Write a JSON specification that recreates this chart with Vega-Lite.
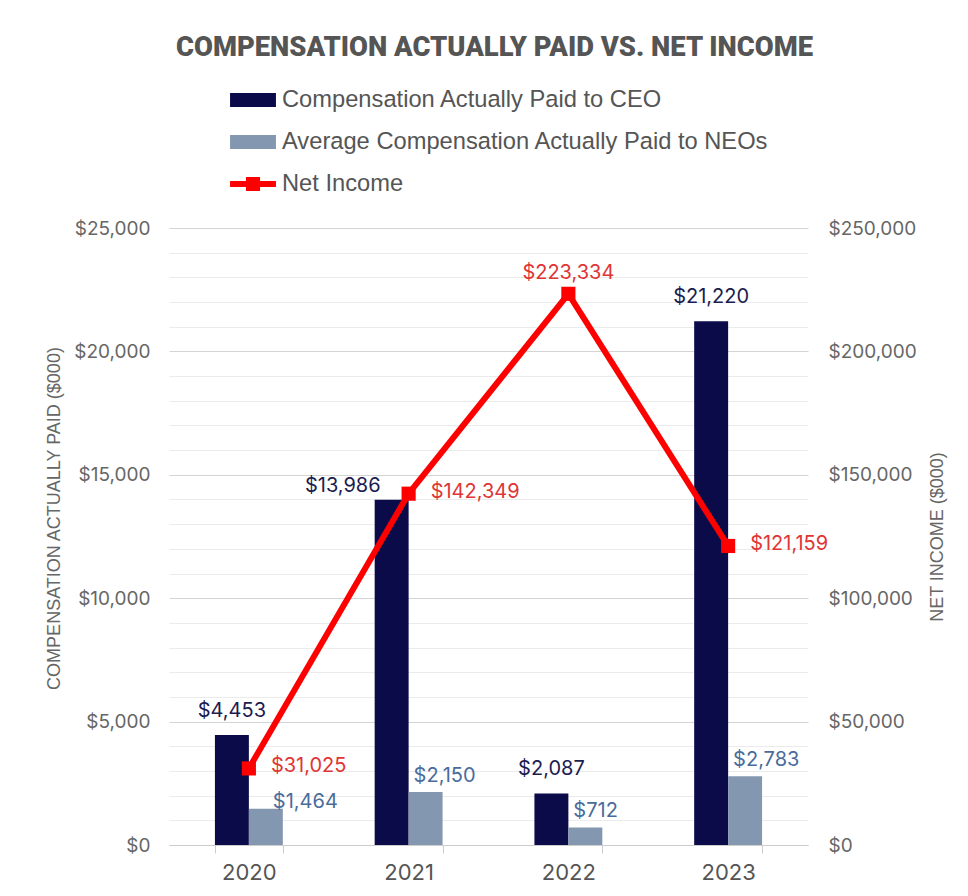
{
  "$schema": "https://vega.github.io/schema/vega-lite/v6.json",
  "width": 639,
  "height": 617,
  "autosize": {"type": "none"},
  "padding": {"left": 169, "top": 228, "right": 160, "bottom": 51},
  "background": "white",
  "title": {
    "text": "COMPENSATION ACTUALLY PAID VS. NET INCOME",
    "anchor": "middle",
    "font": "Roboto",
    "fontSize": 27.4,
    "fontWeight": 900,
    "color": "#555555",
    "offset": 24,
    "dx": 6
  },
  "config": {"view": {"stroke": null}, "font": "Inter"},
  "data": {
    "values": [
      {"year": "2020", "series": "Compensation Actually Paid to CEO", "value": 4453},
      {"year": "2021", "series": "Compensation Actually Paid to CEO", "value": 13986},
      {"year": "2022", "series": "Compensation Actually Paid to CEO", "value": 2087},
      {"year": "2023", "series": "Compensation Actually Paid to CEO", "value": 21220},
      {"year": "2020", "series": "Average Compensation Actually Paid to NEOs", "value": 1464},
      {"year": "2021", "series": "Average Compensation Actually Paid to NEOs", "value": 2150},
      {"year": "2022", "series": "Average Compensation Actually Paid to NEOs", "value": 712},
      {"year": "2023", "series": "Average Compensation Actually Paid to NEOs", "value": 2783},
      {"year": "2020", "series": "Net Income", "value": 31025},
      {"year": "2021", "series": "Net Income", "value": 142349},
      {"year": "2022", "series": "Net Income", "value": 223334},
      {"year": "2023", "series": "Net Income", "value": 121159}
    ]
  },
  "layer": [
    {
      "transform": [{"filter": "datum.series !== 'Net Income'"}],
      "encoding": {
        "x": {
          "field": "year",
          "type": "ordinal",
          "scale": {"paddingInner": 0.575, "paddingOuter": 0.2875},
          "axis": {
            "title": null,
            "labelAngle": 0,
            "labelFont": "Inter",
            "labelFontSize": 22,
            "labelColor": "#555555",
            "labelPadding": 9,
            "tickBand": "extent",
            "ticks": true,
            "tickSize": 8,
            "tickColor": "#cccccc",
            "domainColor": "#cccccc",
            "grid": false
          }
        },
        "xOffset": {
          "field": "series",
          "scale": {"domain": ["Compensation Actually Paid to CEO", "Average Compensation Actually Paid to NEOs"]}
        },
        "y": {
          "field": "value",
          "type": "quantitative",
          "scale": {"domain": [0, 25000], "nice": false},
          "axis": {
            "title": "COMPENSATION ACTUALLY PAID ($000)",
            "titleFont": "Liberation Sans",
            "titleFontSize": 18,
            "titleFontWeight": "normal",
            "titleColor": "#666666",
            "titlePadding": 10,
            "titleY": 290,
            "values": [0, 1000, 2000, 3000, 4000, 5000, 6000, 7000, 8000, 9000, 10000, 11000, 12000, 13000, 14000, 15000, 16000, 17000, 18000, 19000, 20000, 21000, 22000, 23000, 24000, 25000],
            "labelExpr": "datum.value % 5000 === 0 ? '$' + format(datum.value, ',') : ''",
            "labelFont": "Inter",
            "labelFontSize": 19,
            "labelColor": "#666666",
            "labelPadding": 19,
            "ticks": false,
            "domain": false,
            "grid": true,
            "gridColor": {"condition": {"test": "datum.value % 5000 === 0", "value": "#d4d4d4"}, "value": "#ebebeb"}
          }
        }
      },
      "layer": [
        {
          "mark": {"type": "bar"},
          "encoding": {
            "color": {
              "field": "series",
              "type": "nominal",
              "scale": {
                "domain": ["Compensation Actually Paid to CEO", "Average Compensation Actually Paid to NEOs", "Net Income"],
                "range": ["#0b0b4a", "#8497b0", "#ff0000"]
              },
              "legend": {
                "title": null,
                "orient": "none",
                "legendX": 69,
                "legendY": -143,
                "direction": "vertical",
                "labelFont": "Liberation Sans",
                "labelFontSize": 23.7,
                "labelColor": "#555555",
                "symbolSize": 900,
                "labelOffset": 14,
                "rowPadding": 15,
                "labelLimit": 600,
                "encode": {
                  "symbols": {
                    "update": {
                      "shape": {"signal": "datum.value === 'Net Income' ? 'M-1.53,-0.2H1.53V0.2H-1.53Z M-0.47,-0.47H0.47V0.47H-0.47Z' : 'M-1.53,-0.47H1.53V0.47H-1.53Z'"},
                      "fill": {"scale": "color", "field": "value"},
                      "stroke": {"value": "transparent"},
                      "strokeWidth": {"value": 0},
                      "opacity": {"value": 1},
                      "fillOpacity": {"value": 1}
                    }
                  }
                }
              }
            }
          }
        },
        {
          "transform": [{"filter": "datum.series === 'Compensation Actually Paid to CEO' && datum.year !== '2021'"}],
          "mark": {"type": "text", "dy": -24, "fontSize": 20, "font": "Inter", "color": "#1c1c50", "baseline": "middle", "align": "center"},
          "encoding": {"text": {"field": "value", "type": "quantitative", "format": "$,"}}
        },
        {
          "transform": [{"filter": "datum.series === 'Compensation Actually Paid to CEO' && datum.year === '2021'"}],
          "mark": {"type": "text", "dx": -11, "dy": -14, "fontSize": 20, "font": "Inter", "color": "#1c1c50", "baseline": "middle", "align": "right"},
          "encoding": {"text": {"field": "value", "type": "quantitative", "format": "$,"}}
        },
        {
          "transform": [{"filter": "datum.series === 'Average Compensation Actually Paid to NEOs' && datum.year !== '2020'"}],
          "mark": {"type": "text", "dx": -12, "dy": -16, "fontSize": 20, "font": "Inter", "color": "#4a6c9b", "baseline": "middle", "align": "left"},
          "encoding": {"text": {"field": "value", "type": "quantitative", "format": "$,"}}
        },
        {
          "transform": [{"filter": "datum.series === 'Average Compensation Actually Paid to NEOs' && datum.year === '2020'"}],
          "mark": {"type": "text", "dx": 7, "dy": -7, "fontSize": 20, "font": "Inter", "color": "#4a6c9b", "baseline": "middle", "align": "left"},
          "encoding": {"text": {"field": "value", "type": "quantitative", "format": "$,"}}
        }
      ]
    },
    {
      "transform": [{"filter": "datum.series === 'Net Income'"}],
      "encoding": {
        "x": {"field": "year", "type": "ordinal"},
        "y": {
          "field": "value",
          "type": "quantitative",
          "scale": {"domain": [0, 250000], "nice": false},
          "axis": {
            "orient": "right",
            "title": "NET INCOME ($000)",
            "titleAngle": 270,
            "titleFont": "Liberation Sans",
            "titleFontSize": 18,
            "titleFontWeight": "normal",
            "titleColor": "#666666",
            "titlePadding": 30,
            "values": [0, 50000, 100000, 150000, 200000, 250000],
            "labelExpr": "'$' + format(datum.value, ',')",
            "labelFont": "Inter",
            "labelFontSize": 19,
            "labelColor": "#666666",
            "labelPadding": 20,
            "ticks": false,
            "domain": false,
            "grid": false
          }
        }
      },
      "layer": [
        {
          "mark": {
            "type": "line",
            "strokeWidth": 6,
            "point": {"shape": "square", "size": 200, "filled": true, "color": "#ff0000"}
          },
          "encoding": {"color": {"field": "series", "type": "nominal"}}
        },
        {
          "transform": [{"filter": "datum.year !== '2022'"}],
          "mark": {"type": "text", "dx": 22, "dy": -2, "fontSize": 20, "font": "Inter", "color": "#e03535", "baseline": "middle", "align": "left"},
          "encoding": {"text": {"field": "value", "type": "quantitative", "format": "$,"}}
        },
        {
          "transform": [{"filter": "datum.year === '2022'"}],
          "mark": {"type": "text", "dy": -21, "fontSize": 20, "font": "Inter", "color": "#e03535", "baseline": "middle", "align": "center"},
          "encoding": {"text": {"field": "value", "type": "quantitative", "format": "$,"}}
        }
      ]
    }
  ],
  "resolve": {"scale": {"y": "independent"}}
}
